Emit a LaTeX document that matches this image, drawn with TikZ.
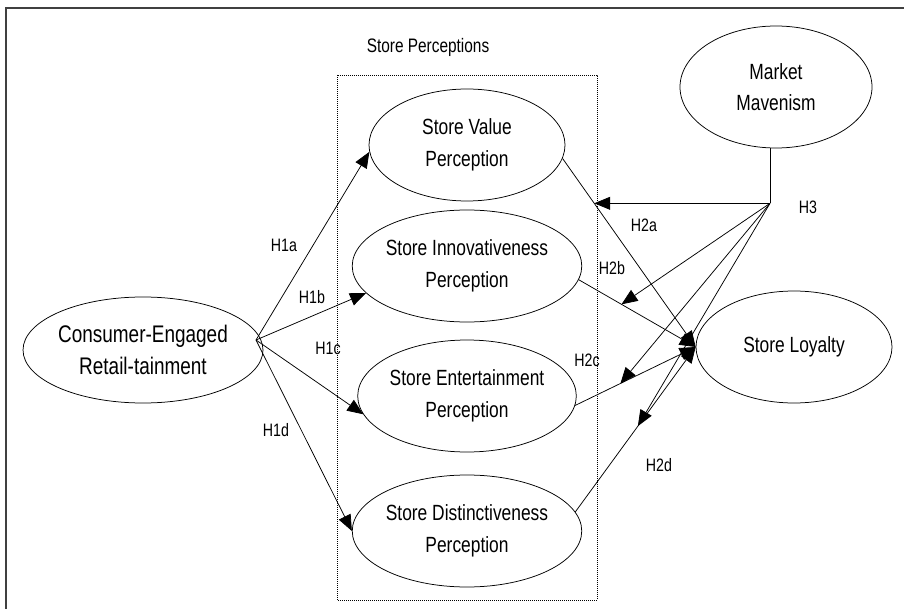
\documentclass[tikz,border=0pt]{standalone}
\usepackage{fontspec}
\setmainfont{Liberation Sans}[FakeStretch=0.79]
\usetikzlibrary{arrows.meta,shapes.geometric,positioning}

\tikzset{
  construct/.style={draw, ellipse, inner sep=0pt, align=center,
    minimum width=196pt, minimum height=112pt,
    font=\fontsize{22}{31.7}\selectfont},
  hyp/.style={-{Triangle[length=16pt,width=13pt]}},
  hlabel/.style={font=\fontsize{18}{20}\selectfont, inner sep=0pt}
}

\begin{document}
\begin{tikzpicture}[x=1pt,y=-1pt,line width=0.75pt]
  \useasboundingbox (0,0) rectangle (904,609);
  \draw[line width=1.6pt,black!75] (6,609) -- (6,8) -- (904,8);

  % store perceptions block
  \node[font=\fontsize{19.5}{22}\selectfont] (sptitle) at (428,47) {Store Perceptions};
  \draw[line width=0.6pt,dash pattern=on 0.8pt off 1.2pt] (337,75) rectangle (597,600);

  \node[construct] (sv) at (467,145) {Store Value\\Perception};
  \node[construct] (si) at (467,266) {Store Innovativeness\\Perception};
  \node[construct] (se) at (467,396) {Store Entertainment\\Perception};
  \node[construct] (sd) at (467,531) {Store Distinctiveness\\Perception};

  \node[construct, minimum width=228pt, minimum height=106pt,
    font=\fontsize{24}{31.7}\selectfont] (ce) at (143,350) {Consumer-Engaged\\Retail-tainment};
  \node[construct, minimum width=192pt, minimum height=122pt] (mm) at (776,87) {Market\\Mavenism};
  \node[construct, minimum width=196pt, minimum height=112pt] (sl) at (794,347) {Store Loyalty};

  % H1
  \coordinate (apex) at (256,340);
  \draw[hyp] (apex) -- (sv.184);
  \draw[hyp] (apex) -- (si.195);
  \draw[hyp] (apex) -- (se.190);
  \draw[hyp] (apex) -- (sd.west);
  \node[hlabel] (h1a) at (284,245) {H1a};
  \node[hlabel] (h1b) at (312,297) {H1b};
  \node[hlabel] (h1c) at (328,348) {H1c};
  \node[hlabel] (h1d) at (276,430) {H1d};

  % H2
  \draw[hyp] (sv.-8) -- (sl.west) coordinate[pos=0.238] (t2a);
  \draw[hyp] (si.-7) -- (sl.west) coordinate[pos=0.366] (t2b);
  \draw[hyp] (se.-5) -- (sl.west) coordinate[pos=0.376] (t2c);
  \draw[hyp] (sd.10) -- (sl.west) coordinate[pos=0.52] (t2d);
  \node[hlabel] (h2a) at (644,225) {H2a};
  \node[hlabel] (h2b) at (612,268) {H2b};
  \node[hlabel] (h2c) at (587,360) {H2c};
  \node[hlabel] (h2d) at (659,465) {H2d};

  % H3
  \coordinate (j) at (770,0 |- t2a);
  \draw (mm.south -| j) -- (j);
  \foreach \t in {t2a,t2b,t2c,t2d}
    \draw[hyp] (j) -- (\t);
  \node[hlabel] (h3) at (808,207) {H3};
\end{tikzpicture}
\end{document}
